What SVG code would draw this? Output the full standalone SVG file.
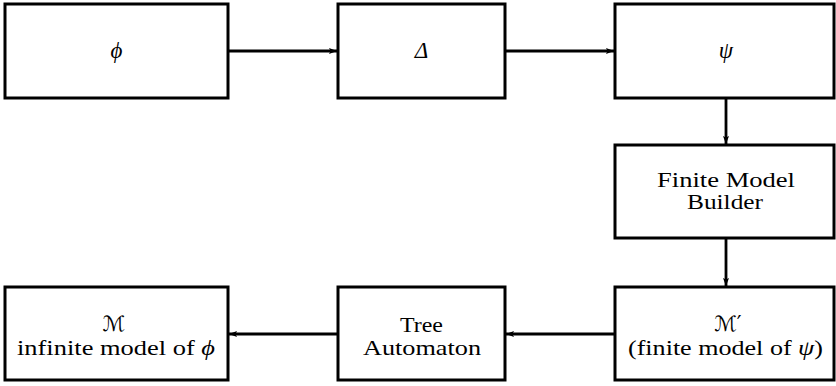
<svg xmlns="http://www.w3.org/2000/svg" width="836" height="386" viewBox="0 0 836 386">
<style>
.box{fill:#fff;stroke:#000;stroke-width:3}
.t{font-family:"Liberation Serif","DejaVu Serif",serif;font-size:21px;fill:#000;text-anchor:middle}
.m{font-family:"Liberation Serif","DejaVu Serif",serif;font-style:italic;font-size:23px;fill:#000;text-anchor:middle}
.s{font-family:"DejaVu Sans",sans-serif;font-size:21px;fill:#000;text-anchor:middle}
.c{fill:none;stroke:#000;stroke-width:2.8}
</style>
<defs>
<marker id="ah" viewBox="0 0 8 6" refX="8" refY="3" markerWidth="8" markerHeight="6" markerUnits="userSpaceOnUse" orient="auto">
<path d="M0,0 L8,3 L0,6 L1.5,3 Z" fill="#000"/>
</marker>
</defs>
<g id="connectors">
<line class="c" x1="228" y1="51" x2="337" y2="51" marker-end="url(#ah)"/>
<line class="c" x1="505" y1="51" x2="614" y2="51" marker-end="url(#ah)"/>
<line class="c" x1="726" y1="98" x2="726" y2="144" marker-end="url(#ah)"/>
<line class="c" x1="726" y1="238" x2="726" y2="286" marker-end="url(#ah)"/>
<line class="c" x1="615" y1="334" x2="506" y2="334" marker-end="url(#ah)"/>
<line class="c" x1="338" y1="334" x2="229" y2="334" marker-end="url(#ah)"/>
</g>
<g id="phi">
<rect class="box" x="5" y="4" width="223" height="94"/>
<text class="m" x="116.5" y="58">ϕ</text>
</g>
<g id="delta">
<rect class="box" x="338" y="4" width="167" height="94"/>
<text class="m" x="421.5" y="58">Δ</text>
</g>
<g id="psi">
<rect class="box" x="615" y="4" width="219" height="94"/>
<text class="m" x="726" y="58">ψ</text>
</g>
<g id="builder">
<rect class="box" x="615" y="145" width="219" height="93"/>
<text class="t" x="726" y="187" textLength="138" lengthAdjust="spacingAndGlyphs">Finite Model</text>
<text class="t" x="725" y="209" textLength="76" lengthAdjust="spacingAndGlyphs">Builder</text>
</g>
<g id="mprime">
<rect class="box" x="615" y="287" width="219" height="93"/>
<text class="s" x="728" y="331">ℳ′</text>
<text class="t" x="725.5" y="355" textLength="195" lengthAdjust="spacingAndGlyphs">(finite model of <tspan font-style="italic">ψ</tspan>)</text>
</g>
<g id="tree">
<rect class="box" x="338" y="287" width="167" height="93"/>
<text class="t" x="421.5" y="332" textLength="43" lengthAdjust="spacingAndGlyphs">Tree</text>
<text class="t" x="422" y="355" textLength="118" lengthAdjust="spacingAndGlyphs">Automaton</text>
</g>
<g id="m">
<rect class="box" x="5" y="287" width="223" height="93"/>
<text class="s" x="114" y="331">ℳ</text>
<text class="t" x="116" y="355" textLength="198" lengthAdjust="spacingAndGlyphs">infinite model of <tspan font-style="italic">ϕ</tspan></text>
</g>
</svg>
